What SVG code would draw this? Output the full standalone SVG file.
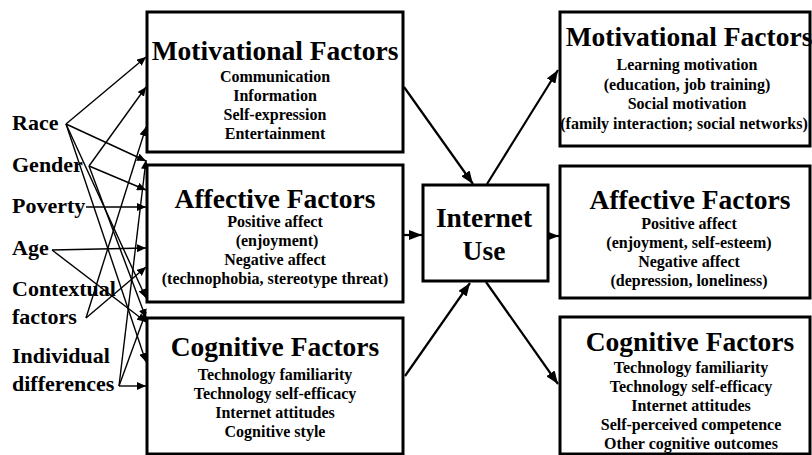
<svg xmlns="http://www.w3.org/2000/svg" width="812" height="455" viewBox="0 0 812 455">
<style>
.box{fill:#fff;stroke:#000;stroke-width:3}
.t{font-family:"Liberation Serif","Times New Roman",serif;font-weight:bold;fill:#000;text-anchor:middle}
.title{font-size:27.5px}
.sub{font-size:16px}
.lab{font-family:"Liberation Serif","Times New Roman",serif;font-weight:bold;fill:#000;font-size:22px}
.c{stroke:#000;stroke-width:1.4;fill:none;marker-end:url(#sa)}
.cb{stroke:#000;stroke-width:2.2;fill:none;marker-end:url(#ba)}
</style>
<defs>
<marker id="sa" markerUnits="userSpaceOnUse" markerWidth="10" markerHeight="8" refX="9" refY="4" orient="auto"><path d="M0,0 L9,4 L0,8 Z" fill="#000"/></marker>
<marker id="ba" markerUnits="userSpaceOnUse" markerWidth="14" markerHeight="10" refX="13" refY="5" orient="auto"><path d="M0,0 L13,5 L0,10 Z" fill="#000"/></marker>
</defs>
<rect width="812" height="455" fill="#fff"/>
<g id="labels">
<text class="lab" x="12" y="130">Race</text>
<text class="lab" x="12" y="172">Gender</text>
<text class="lab" x="12" y="213">Poverty</text>
<text class="lab" x="12" y="255">Age</text>
<text class="lab" x="12" y="296">Contextual</text>
<text class="lab" x="12" y="324">factors</text>
<text class="lab" x="12" y="363">Individual</text>
<text class="lab" x="12" y="391">differences</text>
</g>
<g id="connectors">
<line class="c" x1="66" y1="124" x2="146" y2="57"/>
<line class="c" x1="66" y1="124" x2="146" y2="161"/>
<line class="c" x1="66" y1="124" x2="146" y2="362"/>
<line class="c" x1="66" y1="124" x2="146" y2="298"/>
<line class="c" x1="89" y1="166" x2="146" y2="87"/>
<line class="c" x1="89" y1="166" x2="146" y2="190"/>
<line class="c" x1="89" y1="166" x2="146" y2="318"/>
<line class="c" x1="86" y1="207" x2="146" y2="207"/>
<line class="c" x1="52" y1="250" x2="146" y2="248"/>
<line class="c" x1="52" y1="250" x2="146" y2="322"/>
<line class="c" x1="86" y1="318" x2="146" y2="127"/>
<line class="c" x1="86" y1="318" x2="146" y2="267"/>
<line class="c" x1="119" y1="386" x2="146" y2="386"/>
<line class="c" x1="119" y1="386" x2="146" y2="160"/>
<line class="c" x1="119" y1="386" x2="146" y2="312"/>
<line class="cb" x1="404" y1="87" x2="473" y2="184"/>
<line class="cb" x1="404" y1="235" x2="422" y2="235"/>
<line class="cb" x1="405" y1="376" x2="470" y2="283"/>
<line class="cb" x1="487" y1="184" x2="558" y2="70"/>
<line class="cb" x1="549" y1="236" x2="559" y2="236"/>
<line class="cb" x1="486" y1="282" x2="558" y2="384"/>
</g>
<g id="left-motivational">
<rect class="box" x="147" y="12" width="256" height="140"/>
<text class="t title" x="275" y="60">Motivational Factors</text>
<text class="t sub" x="275" y="82">Communication</text>
<text class="t sub" x="275" y="101">Information</text>
<text class="t sub" x="275" y="120">Self-expression</text>
<text class="t sub" x="275" y="139">Entertainment</text>
</g>
<g id="left-affective">
<rect class="box" x="147" y="165" width="256" height="137"/>
<text class="t title" x="275" y="208">Affective Factors</text>
<text class="t sub" x="275" y="227">Positive affect</text>
<text class="t sub" x="277" y="246">(enjoyment)</text>
<text class="t sub" x="275" y="265">Negative affect</text>
<text class="t sub" x="275" y="284">(technophobia, stereotype threat)</text>
</g>
<g id="left-cognitive">
<rect class="box" x="147" y="318" width="256" height="136"/>
<text class="t title" x="275" y="356">Cognitive Factors</text>
<text class="t sub" x="275" y="380">Technology familiarity</text>
<text class="t sub" x="275" y="399">Technology self-efficacy</text>
<text class="t sub" x="275" y="418">Internet attitudes</text>
<text class="t sub" x="275" y="437">Cognitive style</text>
</g>
<g id="internet-use">
<rect class="box" x="423" y="185" width="125" height="96"/>
<text class="t title" x="484" y="227">Internet</text>
<text class="t title" x="484" y="260">Use</text>
</g>
<g id="right-motivational">
<rect class="box" x="560" y="12" width="250" height="134"/>
<text class="t title" x="689" y="46">Motivational Factors</text>
<text class="t sub" x="687" y="70">Learning motivation</text>
<text class="t sub" x="687" y="90">(education, job training)</text>
<text class="t sub" x="687" y="109">Social motivation</text>
<text class="t sub" x="684" y="129">(family interaction; social networks)</text>
</g>
<g id="right-affective">
<rect class="box" x="560" y="166" width="250" height="132"/>
<text class="t title" x="690" y="209">Affective Factors</text>
<text class="t sub" x="689" y="229">Positive affect</text>
<text class="t sub" x="689" y="248">(enjoyment, self-esteem)</text>
<text class="t sub" x="689" y="267">Negative affect</text>
<text class="t sub" x="689" y="286">(depression, loneliness)</text>
</g>
<g id="right-cognitive">
<rect class="box" x="560" y="317" width="250" height="137"/>
<text class="t title" x="690" y="351">Cognitive Factors</text>
<text class="t sub" x="691" y="373">Technology familiarity</text>
<text class="t sub" x="691" y="392">Technology self-efficacy</text>
<text class="t sub" x="691" y="411">Internet attitudes</text>
<text class="t sub" x="691" y="430">Self-perceived competence</text>
<text class="t sub" x="691" y="449">Other cognitive outcomes</text>
</g>
</svg>
